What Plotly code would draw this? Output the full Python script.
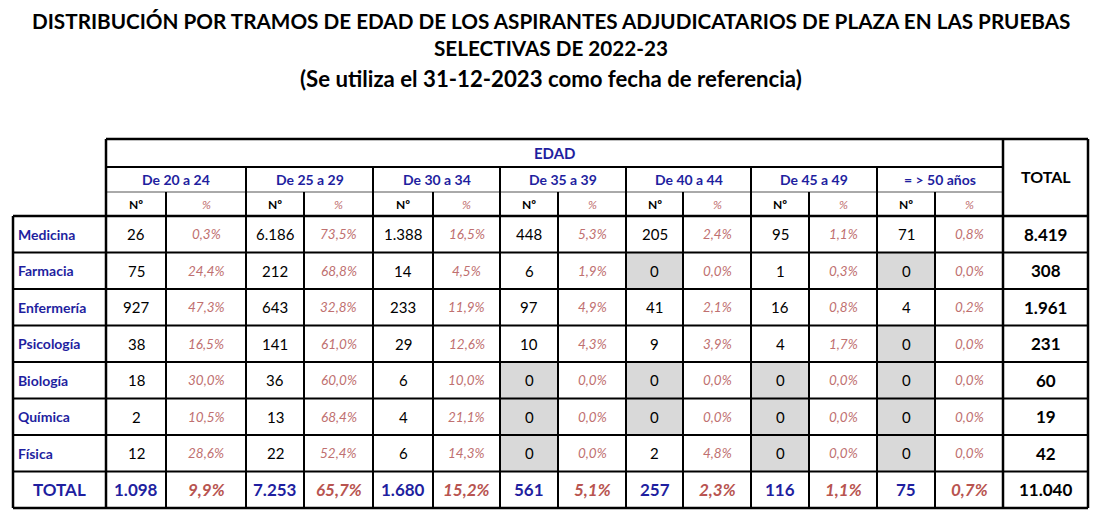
import plotly.graph_objects as go

# ---------------- data ----------------
title_lines = [
    "DISTRIBUCIÓN POR TRAMOS DE EDAD DE LOS ASPIRANTES ADJUDICATARIOS DE PLAZA EN LAS PRUEBAS",
    "SELECTIVAS DE 2022-23",
    "(Se utiliza el 31-12-2023 como fecha de referencia)",
]
categories = ["Medicina", "Farmacia", "Enfermería", "Psicología", "Biología", "Química", "Física"]
age_groups = ["De 20 a 24", "De 25 a 29", "De 30 a 34", "De 35 a 39", "De 40 a 44", "De 45 a 49", "= > 50 años"]

medicina_n = [26, 6186, 1388, 448, 205, 95, 71]
farmacia_n = [75, 212, 14, 6, 0, 1, 0]
enfermeria_n = [927, 643, 233, 97, 41, 16, 4]
psicologia_n = [38, 141, 29, 10, 9, 4, 0]
biologia_n = [18, 36, 6, 0, 0, 0, 0]
quimica_n = [2, 13, 4, 0, 0, 0, 0]
fisica_n = [12, 22, 6, 0, 2, 0, 0]

medicina_pct = [0.3, 73.5, 16.5, 5.3, 2.4, 1.1, 0.8]
farmacia_pct = [24.4, 68.8, 4.5, 1.9, 0.0, 0.3, 0.0]
enfermeria_pct = [47.3, 32.8, 11.9, 4.9, 2.1, 0.8, 0.2]
psicologia_pct = [16.5, 61.0, 12.6, 4.3, 3.9, 1.7, 0.0]
biologia_pct = [30.0, 60.0, 10.0, 0.0, 0.0, 0.0, 0.0]
quimica_pct = [10.5, 68.4, 21.1, 0.0, 0.0, 0.0, 0.0]
fisica_pct = [28.6, 52.4, 14.3, 0.0, 4.8, 0.0, 0.0]

row_totals = [8419, 308, 1961, 231, 60, 19, 42]
total_n = [1098, 7253, 1680, 561, 257, 116, 75]
total_pct = [9.9, 65.7, 15.2, 5.1, 2.3, 1.1, 0.7]
grand_total = 11040

counts = [medicina_n, farmacia_n, enfermeria_n, psicologia_n, biologia_n, quimica_n, fisica_n]
pcts = [medicina_pct, farmacia_pct, enfermeria_pct, psicologia_pct, biologia_pct, quimica_pct, fisica_pct]

# ---------------- layout geometry ----------------
W, H = 1101, 527
PAGE_MARGIN = 8  # default body margin of the html page
FONT = "Lato"
BLUE = "#1f1fa0"
PINK = "#c07070"
PINK_BOLD = "#b85450"
GRAY = "#d9d9d9"

x_left = 13
x_lab = 106
col_edges = [106, 166, 246, 304, 373, 433, 500, 558, 626, 683, 751, 809, 877, 935, 1003]
x_right = 1088
y_top = 139
y_edad = 167
y_age = 192
y_hdr = 216
row_h = 36.5
n_rows = len(categories) + 1
row_edges = [y_hdr + row_h * i for i in range(n_rows + 1)]


def fmt_int(v):
    return f"{v:,}".replace(",", ".")


def fmt_pct(v):
    return f"{v:.1f}%".replace(".", ",")


shapes = []
annotations = []


def line(x0, y0, x1, y1, w=2, color="black"):
    shapes.append(dict(type="line", x0=x0, y0=y0, x1=x1, y1=y1, xref="x", yref="y",
                       line=dict(color=color, width=w), layer="above"))


def text(x, y, s, size=13, color="black", bold=False, italic=False, xanchor="center"):
    if bold:
        s = f"<b>{s}</b>"
    if italic:
        s = f"<i>{s}</i>"
    annotations.append(dict(x=x, y=y, xref="x", yref="y", text=s, showarrow=False,
                            xanchor=xanchor, yanchor="middle", borderpad=0,
                            font=dict(family=FONT, size=size, color=color)))


# gray fills for zero cells
for r, row in enumerate(counts):
    for g, v in enumerate(row):
        if v == 0:
            shapes.append(dict(type="rect", xref="x", yref="y",
                               x0=col_edges[2 * g], x1=col_edges[2 * g + 1],
                               y0=row_edges[r], y1=row_edges[r + 1],
                               fillcolor=GRAY, line=dict(width=0), layer="below"))

# grid lines
line(x_lab, y_top, x_right, y_top, 2.5)
line(x_lab, y_edad, col_edges[-1], y_edad, 2)
line(x_lab, y_age, col_edges[-1], y_age, 1, "#555555")
for i, y in enumerate(row_edges):
    line(x_left, y, x_right, y, 2.5 if i in (0, len(row_edges) - 1) else 2)
line(x_left, y_hdr, x_left, row_edges[-1], 2.5)
line(x_lab, y_top, x_lab, row_edges[-1], 2.5)
line(col_edges[-1], y_top, col_edges[-1], row_edges[-1], 2.5)
line(x_right, y_top, x_right, row_edges[-1], 2.5)
for k in range(1, len(col_edges) - 1):
    y0 = y_edad if k % 2 == 0 else y_age
    line(col_edges[k], y0, col_edges[k], row_edges[-1], 2)

# header texts
text((x_lab + col_edges[-1]) / 2, (y_top + y_edad) / 2, "EDAD", 15, BLUE, bold=True)
for g, name in enumerate(age_groups):
    xc = (col_edges[2 * g] + col_edges[2 * g + 2]) / 2
    text(xc, (y_edad + y_age) / 2, name, 14, BLUE, bold=True)
    text((col_edges[2 * g] + col_edges[2 * g + 1]) / 2, (y_age + y_hdr) / 2, "Nº", 12, "black", bold=True)
    text((col_edges[2 * g + 1] + col_edges[2 * g + 2]) / 2, (y_age + y_hdr) / 2, "%", 12, PINK, italic=True)
text((col_edges[-1] + x_right) / 2, (y_top + y_hdr) / 2 - 1, "TOTAL", 16, "black", bold=True)

# body
for r, cat in enumerate(categories):
    yc = (row_edges[r] + row_edges[r + 1]) / 2
    text(x_left + 4, yc, cat, 14, BLUE, bold=True, xanchor="left")
    for g in range(len(age_groups)):
        text((col_edges[2 * g] + col_edges[2 * g + 1]) / 2, yc, fmt_int(counts[r][g]), 15)
        text((col_edges[2 * g + 1] + col_edges[2 * g + 2]) / 2, yc, fmt_pct(pcts[r][g]), 13.5, PINK, italic=True)
    text((col_edges[-1] + x_right) / 2, yc, fmt_int(row_totals[r]), 17, "black", bold=True)

# total row
yc = (row_edges[-2] + row_edges[-1]) / 2
text((x_left + x_lab) / 2, yc, "TOTAL", 17, BLUE, bold=True)
for g in range(len(age_groups)):
    text((col_edges[2 * g] + col_edges[2 * g + 1]) / 2, yc, fmt_int(total_n[g]), 17, BLUE, bold=True)
    text((col_edges[2 * g + 1] + col_edges[2 * g + 2]) / 2, yc, fmt_pct(total_pct[g]), 17, PINK_BOLD, bold=True, italic=True)
text((col_edges[-1] + x_right) / 2, yc, fmt_int(grand_total), 17, "black", bold=True)

# title
title_sizes = [20.7, 20.7, 22.2]
title_y = [21, 48, 78]
for i, t in enumerate(title_lines):
    text(551, title_y[i], t, title_sizes[i], "black", bold=True)

fig = go.Figure()
fig.update_layout(
    width=W - PAGE_MARGIN, height=H - PAGE_MARGIN,
    margin=dict(l=0, r=0, t=0, b=0),
    paper_bgcolor="white", plot_bgcolor="white",
    xaxis=dict(range=[PAGE_MARGIN, W], visible=False, fixedrange=True),
    yaxis=dict(range=[H, PAGE_MARGIN], visible=False, fixedrange=True),
    shapes=shapes, annotations=annotations,
    showlegend=False,
)
fig.write_html("out.html")
